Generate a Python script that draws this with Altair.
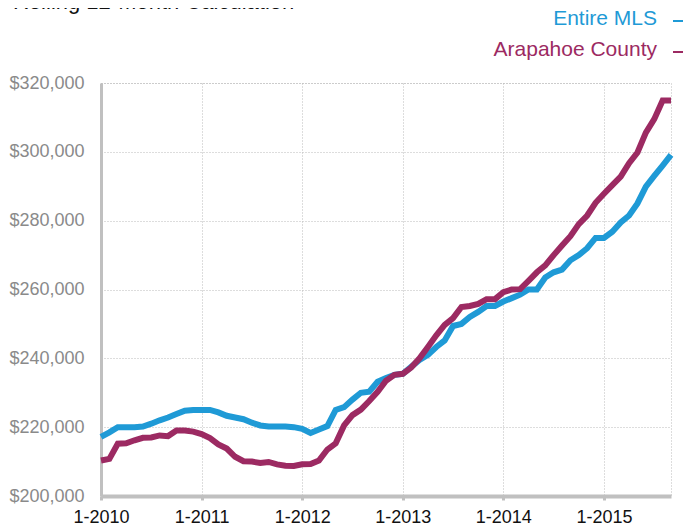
import altair as alt
import pandas as pd

# Month index 0 = Jan 2010 ... 68 = Sep 2015
month_index = list(range(69))

entire_mls = [
    217.2, 218.5, 220.0, 220.0, 220.0, 220.2, 221.0, 222.0, 222.8, 223.8,
    224.8, 225.0, 225.0, 225.0, 224.3, 223.3, 222.8, 222.3, 221.3, 220.5,
    220.2, 220.2, 220.2, 220.0, 219.5, 218.3, 219.3, 220.3, 225.0, 225.8,
    228.0, 230.0, 230.3, 233.2, 234.3, 235.2, 235.5, 237.5, 239.5, 241.0,
    243.3, 245.2, 249.4, 250.0, 252.0, 253.5, 255.2, 255.2, 256.5, 257.5,
    258.5, 260.0, 260.0, 263.5, 265.0, 265.8, 268.5, 270.0, 272.0, 275.0,
    275.0, 276.8, 279.5, 281.5, 285.0, 289.9, 293.0, 296.0, 299.1,
]
arapahoe = [
    210.3, 210.8, 215.2, 215.3, 216.2, 216.9, 217.0, 217.6, 217.4, 219.0,
    219.0, 218.7, 218.0, 216.8, 215.0, 213.8, 211.4, 210.1, 210.0, 209.6,
    209.9, 209.2, 208.8, 208.7, 209.2, 209.3, 210.3, 213.5, 215.3, 220.5,
    223.5, 225.1, 227.6, 230.3, 233.5, 235.2, 235.5, 237.3, 240.0, 243.3,
    246.7, 249.7, 251.7, 254.9, 255.2, 255.8, 257.2, 257.2, 259.2, 260.0,
    260.1, 262.5, 265.0, 267.0, 270.0, 272.8, 275.5, 279.0, 281.5, 285.2,
    287.8, 290.3, 292.8, 296.7, 299.8, 305.6, 309.5, 314.9, 314.9,
]
series_names = ["Entire MLS", "Arapahoe County"]
series_colors = ["#1f9ad6", "#9c2a62"]
year_ticks = [0, 12, 24, 36, 48, 60]
y_ticks = [200000, 220000, 240000, 260000, 280000, 300000, 320000]
title_text = "Rolling 12-Month Calculation"

rows = []
for i, m in enumerate(month_index):
    rows.append({"m": m, "v": entire_mls[i] * 1000, "s": series_names[0]})
for i, m in enumerate(month_index):
    rows.append({"m": m, "v": arapahoe[i] * 1000, "s": series_names[1]})
df = pd.DataFrame(rows)

FONT = "Liberation Sans"

x = alt.X(
    "m:Q",
    scale=alt.Scale(domain=[0, 68], nice=False, zero=False),
    axis=alt.Axis(
        values=year_ticks,
        labelExpr="'1-' + (2010 + datum.value / 12)",
        title=None,
        grid=True,
        gridColor="#bbbbbb",
        gridDash=[1, 2],
        gridWidth=1,
        domainColor="#c0c0c0",
        domainWidth=4,
        tickColor="#c0c0c0",
        tickWidth=3,
        tickSize=4,
        labelFontSize=18,
        labelColor="#111111",
        labelFont=FONT,
        labelPadding=8,
        labelFlush=False,
    ),
)
y = alt.Y(
    "v:Q",
    scale=alt.Scale(domain=[200000, 320000], nice=False, zero=False),
    axis=alt.Axis(
        values=y_ticks,
        format="$,.0f",
        title=None,
        grid=True,
        gridColor="#bbbbbb",
        gridDash=[1, 2],
        gridWidth=1,
        domainColor="#c0c0c0",
        domainWidth=3,
        ticks=False,
        labelFontSize=18,
        labelColor="#8a8a8a",
        labelFont=FONT,
        labelPadding=17,
    ),
)

lines = alt.Chart(df).mark_line(strokeWidth=6, strokeJoin="miter").encode(
    x=x,
    y=y,
    color=alt.Color(
        "s:N",
        scale=alt.Scale(domain=series_names, range=series_colors),
        legend=None,
    ),
    order="m:Q",
)

leg_df = pd.DataFrame({
    "s": series_names,
    "c": series_colors,
    "ty": [-64, -33],
    "dy": [-62, -31],
})

leg_text = alt.Chart(leg_df).mark_text(
    align="right", baseline="middle", fontSize=21, font=FONT
).encode(
    x=alt.value(556),
    y=alt.Y("ty:Q", scale=None),
    text="s:N",
    color=alt.Color("c:N", scale=None),
)
leg_dash = alt.Chart(leg_df).mark_rule(strokeWidth=2).encode(
    x=alt.value(572),
    x2=alt.value(587),
    y=alt.Y("dy:Q", scale=None),
    color=alt.Color("c:N", scale=None),
)

title = alt.Chart(pd.DataFrame({"t": [title_text]})).mark_text(
    align="left", baseline="alphabetic", fontSize=22, font=FONT, color="#111111"
).encode(
    x=alt.value(-88),
    y=alt.value(-74),
    text="t:N",
)

chart = alt.layer(lines, leg_text, leg_dash, title).properties(
    width=570,
    height=413,
    autosize=alt.AutoSizeParams(type="none"),
    padding={"left": 93, "top": 75, "right": 12, "bottom": 31},
).configure_view(
    stroke="#bbbbbb",
    strokeDash=[1, 2],
    strokeWidth=1,
)

chart.save("out.html", embed_options={"renderer": "svg", "actions": False})
